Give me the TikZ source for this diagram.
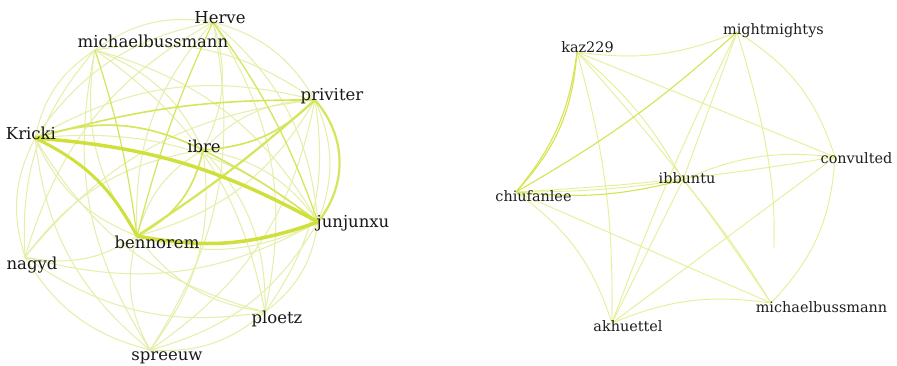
\documentclass[tikz,border=0pt]{standalone}
\usepackage{fontspec}
\setmainfont{DejaVu Serif}
\definecolor{eFaint}{RGB}{230,238,168}
\definecolor{eMid}{RGB}{214,229,90}
\definecolor{eThick}{RGB}{208,224,58}
\definecolor{eRight}{RGB}{230,239,150}
\definecolor{eRmid}{RGB}{214,228,80}
\definecolor{txt}{RGB}{25,25,25}
\definecolor{txtR}{RGB}{30,30,30}
\begin{document}
\begin{tikzpicture}[x=1pt,y=-1pt,
  fe/.style={draw=eFaint,line width=1pt},
  me/.style={draw=eMid,line width=1.6pt},
  te/.style={draw=eThick,line width=3pt},
  re/.style={draw=eRight,line width=0.9pt},
  rm/.style={draw=eRmid,line width=1.1pt},
  lblL/.style={font=\fontsize{16.5}{18}\selectfont,text=txt,inner sep=0pt,anchor=base},
  lblR/.style={font=\fontsize{14.4}{16}\selectfont,text=txtR,inner sep=0pt,anchor=base},
  bl/.style={bend left=22}]
\fill[white] (0,0) rectangle (897,365);
\useasboundingbox (0,0) rectangle (897,365);

% ---------- left graph: node points ----------
\coordinate (H)  at (213,22);
\coordinate (MB) at (95,50);
\coordinate (P)  at (315,100);
\coordinate (K)  at (35,138);
\coordinate (I)  at (203,150);
\coordinate (J)  at (318,222);
\coordinate (B)  at (137,236);
\coordinate (N)  at (25,257);
\coordinate (PL) at (265,312);
\coordinate (S)  at (150,350);

% faint edges
\draw[fe] (J) to[bl] (PL);  \draw[fe] (J) to[bl] (S);   \draw[fe] (J) to[bl] (B);
\draw[fe] (J) to[bl] (N);   \draw[fe] (K) to[bl] (J);   \draw[fe] (MB) to[bl] (J);
\draw[fe] (H) to[bl] (J);   \draw[fe] (I) to[bl] (J);   \draw[fe] (P) to[bl] (J);
\draw[fe] (PL) to[bl] (S);  \draw[fe] (PL) to[bl] (B);  \draw[fe] (PL) to[bl] (N);
\draw[fe] (PL) to[bl] (K);  \draw[fe] (MB) to[bl] (PL); \draw[fe] (H) to[bl] (PL);
\draw[fe] (I) to[bl] (PL);  \draw[fe] (P) to[bl] (PL);
\draw[fe] (S) to[bl] (B);   \draw[fe] (S) to[bl] (N);   \draw[fe] (S) to[bl] (K);
\draw[fe] (S) to[bl] (MB);  \draw[fe] (H) to[bl] (S);   \draw[fe] (I) to[bl] (S);
\draw[fe] (P) to[bl] (S);
\draw[fe] (B) to[bl] (N);   \draw[fe] (B) to[bl] (K);   \draw[fe] (B) to[bl] (MB);
\draw[fe] (B) to[bl] (H);   \draw[fe] (B) to[bl] (I);   \draw[fe] (P) to[bl] (B);
\draw[fe] (N) to[bl] (K);   \draw[fe] (N) to[bl] (MB);  \draw[fe] (N) to[bl] (H);
\draw[fe] (N) to[bl] (I);   \draw[fe] (N) to[bl] (P);
\draw[fe] (K) to[bl] (MB);  \draw[fe] (K) to[bl] (H);   \draw[fe] (K) to[bl] (I);
\draw[fe] (K) to[bl] (P);
\draw[fe] (MB) to[bl] (H);  \draw[fe] (MB) to[bl] (I);  \draw[fe] (MB) to[bl] (P);
\draw[fe] (H) to[bl] (I);   \draw[fe] (H) to[bl] (P);   \draw[fe] (I) to[bl] (P);

% emphasised edges
\draw[me,line width=1.2pt] (MB) to[bend left=5] (B);
\draw[me,line width=1.2pt] (H) to[bend right=5] (B);
\draw[me,line width=1.3pt] (H) to[bend left=8] (J);
\draw[me] (K) to[bend left=8] (P);
\draw[me] (K) to[bend left=22] (I);
\draw[me] (I) to[bend right=20] (P);
\draw[me] (I) to[bend left=5] (J);
\draw[me] (B) to[bend right=25] (I);
\draw[me,line width=2.2pt] (P) to[bend left=4] (B);
\draw[me,line width=2.2pt] (P) to[bend left=40] (J);
\draw[te] (B) to[bend right=18] (K);
\draw[te,line width=3.5pt] (K) to[bend left=12] (J);
\draw[te,line width=3.5pt] (J) to[bend left=15] (B);

% left labels
\node[lblL] (Hl)  at (220,23)  {Herve};
\node[lblL] (MBl) at (153,47)  {michaelbussmann};
\node[lblL] (Pl)  at (332,100) {priviter};
\node[lblL] (Kl)  at (31,139)  {Kricki};
\node[lblL] (Il)  at (204,152) {ibre};
\node[lblL] (Jl)  at (353,227) {junjunxu};
\node[lblL] (Bl)  at (157,248) {bennorem};
\node[lblL] (Nl)  at (32,269)  {nagyd};
\node[lblL] (PLl) at (277,323) {ploetz};
\node[lblL] (Sl)  at (167,360) {spreeuw};

% ---------- right graph ----------
\coordinate (kaz)  at (577,52);
\coordinate (mm)   at (737,32);
\coordinate (conv) at (835,157);
\coordinate (chiu) at (516,192);
\coordinate (ibb)  at (683,180);
\coordinate (mb2)  at (771,303);
\coordinate (akh)  at (612,323);

\draw[re] (kaz) to[bend right=15] (mm);
\draw[re] (kaz) -- (conv);
\draw[re] (akh) to[bend right=8] (kaz);
\draw[re] (kaz) to[bend left=4] (mb2);
\draw[re] (kaz) to[bend left=10] (ibb);
\draw[re] (chiu) to[bend right=4] (ibb);
\draw[re] (chiu) to[bend right=3] (conv);
\draw[re] (chiu) -- (mb2);
\draw[re] (akh) to[bend right=18] (chiu);
\draw[re] (ibb) to[bend left=15] (conv);
\draw[re] (mm) to[bend left=20] (conv);
\draw[re] (conv) to[bend left=20] (mb2);
\draw[re] (conv) -- (akh);
\draw[re,shorten >=55pt] (mm) to[bend left=10] (mb2);
\draw[re] (mm) to[bend right=3] (akh);
\draw[re] (mm) -- (ibb);
\draw[re] (akh) -- (ibb);
\draw[re] (akh) to[bend left=15] (mb2);
\draw[re] (ibb) to[bend left=4] (mb2);
\draw[rm] (chiu) to[bend right=16] (kaz);
\draw[rm] (chiu) to[bend right=19] (kaz);
\draw[rm] (chiu) to[bend right=6] (mm);
\draw[rm] (chiu) to[bend right=10] (ibb);

\node[lblR] (kazl)  at (587.5,52) {kaz229};
\node[lblR] (mml)   at (773.5,34) {mightmightys};
\node[lblR] (convl) at (856.5,163) {convulted};
\node[lblR] (chiul) at (533.5,201) {chiufanlee};
\node[lblR] (ibbl)  at (687,183) {ibbuntu};
\node[lblR] (mb2l)  at (821.5,312) {michaelbussmann};
\node[lblR] (akhl)  at (628,331) {akhuettel};
\end{tikzpicture}
\end{document}
